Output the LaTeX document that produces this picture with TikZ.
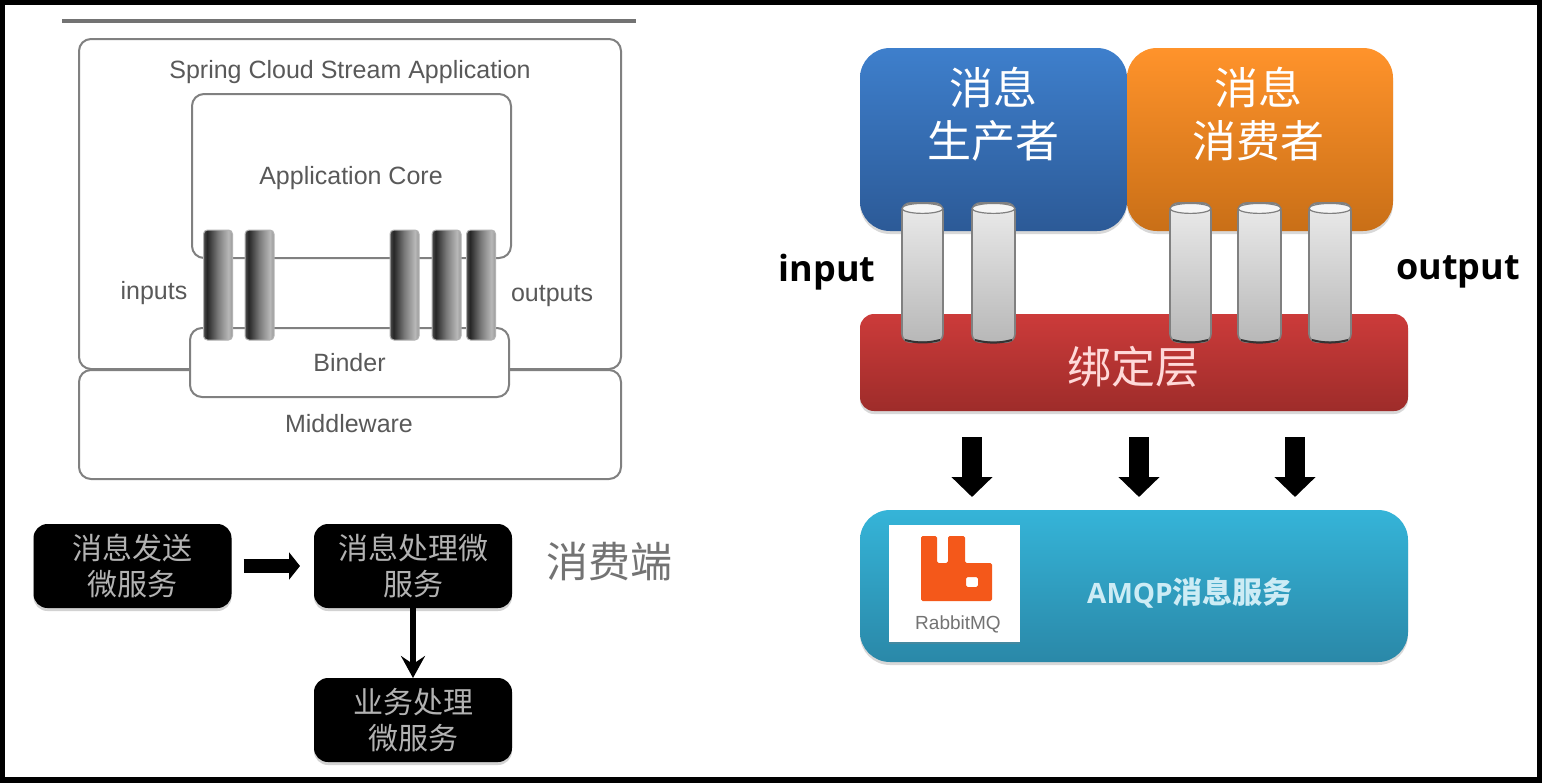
\documentclass[tikz,border=0pt]{standalone}
\usepackage{fontspec}
\setmainfont{Liberation Sans}
\newfontfamily\cjkfont{Noto Sans CJK SC}
\newfontfamily\labelfont{Open Sans}
\usetikzlibrary{arrows.meta,shadows}

\definecolor{bluetop}{HTML}{3E7FCC}
\definecolor{bluebot}{HTML}{2C5A97}
\definecolor{orangetop}{HTML}{FF932B}
\definecolor{orangebot}{HTML}{C96F17}
\definecolor{redtop}{HTML}{CC3B3A}
\definecolor{redbot}{HTML}{9E2C2A}
\definecolor{tealtop}{HTML}{35B4D8}
\definecolor{tealbot}{HTML}{2A88A8}
\definecolor{rabbit}{HTML}{F4581A}

\pgfdeclarehorizontalshading{pipeshade}{100bp}{color(0bp)=(black!70); color(25bp)=(black!70); color(31bp)=(black!85); color(50bp)=(black!52); color(68bp)=(black!28); color(75bp)=(black!40); color(100bp)=(black!40)}

\tikzset{
  appbox/.style={draw=black!50, line width=1pt, rounded corners=6pt, outer sep=0pt, text=black!65, font=\fontsize{12.5}{15}\selectfont},
  graytext/.style={text=black!65, font=\fontsize{12.5}{15}\selectfont},
  darkpipe/.style={draw=black!30, line width=.5pt, rounded corners=2pt, minimum width=14.5pt, minimum height=55pt, outer sep=0pt, shading=pipeshade},
  blackbox/.style={fill=black, rounded corners=7pt, minimum width=99pt, minimum height=42pt, align=center, text=black!30, outer sep=0pt,
    font=\cjkfont\fontsize{15}{18}\selectfont, drop shadow={shadow xshift=0pt, shadow yshift=-1.5pt, opacity=.35}},
  colorbox/.style={rounded corners=15pt, align=center, text=white, outer sep=0pt, inner sep=0pt,
    font=\cjkfont\fontsize{22}{26}\selectfont, drop shadow={shadow xshift=0pt, shadow yshift=-1.5pt, opacity=.3}},
  lightpipe/.style={draw=black!50, line width=.8pt, rounded corners=4pt, minimum height=69.5pt, outer sep=0pt, top color=black!8, bottom color=black!28},
  blockarrow/.style={-{Triangle[length=10pt,width=20pt]}, line width=10pt, black},
  bigtext/.style={font=\labelfont\bfseries\fontsize{18}{22}\selectfont}
}

\begin{document}
\begin{tikzpicture}[x=.5pt,y=-.5pt]
\useasboundingbox (0,0) rectangle (1542,782);
\fill[white] (0,0) rectangle (1542,782);
\draw[black,line width=5pt] (0,0) rectangle (1542,782);

\draw[black!55,line width=2.2pt] (62,21) -- (636,21);

\node[appbox,minimum width=271pt,minimum height=165pt] (app) at (350,204) {};
\node[graytext] (apptext) at (350,72) {Spring Cloud Stream Application};
\node[appbox,minimum width=271pt,minimum height=54.5pt] (middle) at (350,424.5) {};
\node[graytext] (middletext) at (349,424) {Middleware};
\node[appbox,minimum width=159.5pt,minimum height=82pt] (core) at (351.5,176) {};
\node[graytext] (coretext) at (351,178) {Application Core};
\node[appbox,fill=white,minimum width=159.5pt,minimum height=34.5pt] (binder) at (349.5,362.5) {Binder};
\node[graytext] (inputs) at (154,293) {inputs};
\node[graytext] (outputs) at (552,296) {outputs};

\foreach \x/\n in {218/a,259.5/b,404.5/c,446.5/d,481/e}
  \node[darkpipe] (pipe\n) at (\x,285) {};

\node[blackbox] (send) at (132.5,566) {消息发送\\微服务};
\node[blackbox] (handle) at (413,566) {消息处理微\\服务};
\node[blackbox] (work) at (413,720) {业务处理\\微服务};
\node[text=black!55,font=\cjkfont\fontsize{21}{26}\selectfont] (side) at (609,562) {消费端};

\draw[-{Triangle[length=5.5pt,width=13.5pt]},line width=7pt,shorten <=6pt,shorten >=7pt] (send) -- (handle);
\draw[-{Stealth[length=11pt,width=12pt,inset=4pt]},line width=3pt] (handle) -- (work);

\node[colorbox,top color=bluetop,bottom color=bluebot,minimum width=133.5pt,minimum height=91.5pt] (producer) at (993.5,139.5) {};
\node[colorbox,top color=orangetop,bottom color=orangebot,minimum width=133pt,minimum height=91.5pt] (consumer) at (1260,139.5) {};
\node[colorbox,rounded corners=7pt,top color=redtop,bottom color=redbot,minimum width=274pt,minimum height=48.5pt] (bindlayer) at (1134,362.5) {};
\node[colorbox,top color=tealtop,bottom color=tealbot,minimum width=274pt,minimum height=76pt] (amqp) at (1134,586) {};

\node[text=white,align=center,font=\cjkfont\fontsize{22}{26.5}\selectfont] (producertext) at (993,114) {消息\\生产者};
\node[text=white,align=center,font=\cjkfont\fontsize{22}{26.5}\selectfont] (consumertext) at (1258,114) {消息\\消费者};
\node[text=red!15!white,font=\cjkfont\fontsize{22}{26}\selectfont] (bindtext) at (1133,367) {绑定层};

\foreach \x/\w/\n in {922.5/20.5/a,993.5/21.5/b,1190.5/20.5/c,1259.5/21.5/d,1330/21/e} {
  \node[lightpipe,minimum width=\w pt] (tube\n) at (\x,272.5) {};
  \draw[draw=black!50,line width=.6pt,fill=black!4] ([yshift=-2.7pt]tube\n.north) ellipse [x radius=0.5*\w pt, y radius=2.5pt];
  \draw[black!80,line width=1pt] ([xshift=1.5pt,yshift=1pt]tube\n.south west) to[bend right=14] ([xshift=-1.5pt,yshift=1pt]tube\n.south east);
}

\node[bigtext] (input) at (827,272) {input};
\node[bigtext] (output) at (1458,272) {output};

\foreach \x in {972,1139,1295}
  \draw[blockarrow,shorten <=13pt,shorten >=6.5pt] (bindlayer.south -| \x,0) -- (amqp.north -| \x,0);

\node[fill=white,minimum width=65.5pt,minimum height=58.5pt,outer sep=0pt,drop shadow={shadow xshift=0pt,shadow yshift=-1pt,opacity=.3}] (logobox) at (954.5,583.5) {};
\fill[rabbit,even odd rule,rounded corners=.8pt] (921,536) -- (937,536) -- (937,563) -- (948,563) -- (948,536) -- (965,536) -- (965,563) -- (992,563) -- (992,601) -- (921,601) -- cycle
  (966,577) rectangle (978,587);
\node[text=black!55,font=\fontsize{9.5}{11}\selectfont] (rabbittext) at (958,624) {RabbitMQ};
\node[text=tealtop!25!white,font=\labelfont\bfseries\fontsize{14}{17}\selectfont] (amqptext) at (1190,593) {AMQP{\cjkfont\fontsize{15}{17}\selectfont 消息服务}};
\end{tikzpicture}
\end{document}
